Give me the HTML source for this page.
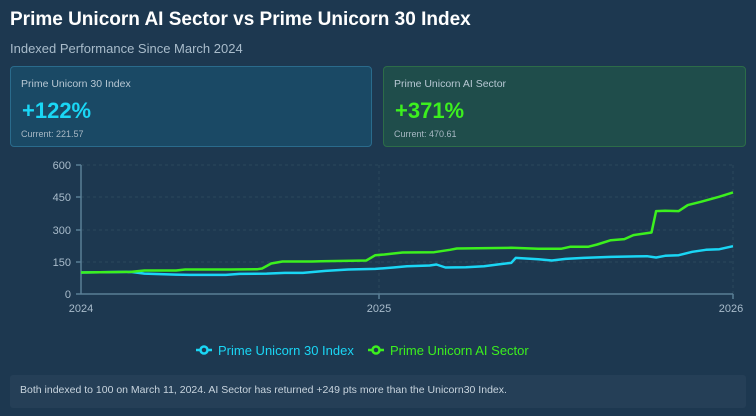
<!DOCTYPE html>
<html><head><meta charset="utf-8"><style>
body{margin:0;width:756px;height:416px;background:#1d3850;font-family:"Liberation Sans",sans-serif;overflow:hidden;position:relative}
.t{position:absolute;left:10px;top:9px;font-size:19px;font-weight:bold;color:#fff}
.s{position:absolute;left:10px;top:41px;font-size:13px;color:#a9bccb}
.card{position:absolute;top:66px;height:81px;border-radius:4px;box-sizing:border-box}
.card .l{position:absolute;left:10px;top:11px;font-size:10.5px;color:#b8c8d4}
.card .v{position:absolute;left:11px;top:31px;font-size:22px;font-weight:bold}
.card .c{position:absolute;left:10px;top:62px;font-size:9px;color:#a8b8c4}
.foot{position:absolute;left:10px;top:375px;width:736px;height:33px;background:#253f57;border-radius:3px;font-size:10.5px;color:#c8d4de;line-height:31px;padding-left:10px;box-sizing:border-box}
</style></head><body>
<div class="t">Prime Unicorn AI Sector vs Prime Unicorn 30 Index</div>
<div class="s">Indexed Performance Since March 2024</div>
<div class="card" style="left:10px;width:362px;background:#1a4965;border:1px solid #2a6b8c"><div class="l">Prime Unicorn 30 Index</div><div class="v" style="color:#1ad6f5">+122%</div><div class="c">Current: 221.57</div></div>
<div class="card" style="left:383px;width:363px;background:#1f4d4b;border:1px solid #2c6c48"><div class="l">Prime Unicorn AI Sector</div><div class="v" style="color:#3cf01e">+371%</div><div class="c">Current: 470.61</div></div>
<svg width="756" height="416" style="position:absolute;left:0;top:0" font-family="Liberation Sans, sans-serif">
<g stroke="#2a475c" stroke-dasharray="3,3"><line x1="81" x2="733" y1="165" y2="165"/><line x1="81" x2="733" y1="197" y2="197"/><line x1="81" x2="733" y1="230" y2="230"/><line x1="81" x2="733" y1="262" y2="262"/><line x1="379" x2="379" y1="165" y2="294"/><line x1="733" x2="733" y1="165" y2="294"/></g>
<g stroke="#5a7f96" stroke-width="1.5"><line x1="81" y1="165" x2="81" y2="294"/><line x1="81" y1="294" x2="733" y2="294"/><line x1="379" y1="294" x2="379" y2="299"/><line x1="733" y1="294" x2="733" y2="299"/><line x1="76" y1="165" x2="81" y2="165"/><line x1="76" y1="197" x2="81" y2="197"/><line x1="76" y1="230" x2="81" y2="230"/><line x1="76" y1="262" x2="81" y2="262"/><line x1="76" y1="294" x2="81" y2="294"/></g>
<g fill="#a9bccb" font-size="11" text-anchor="end"><text x="71" y="169">600</text><text x="71" y="201">450</text><text x="71" y="234">300</text><text x="71" y="266">150</text><text x="71" y="298">0</text></g>
<g fill="#a9bccb" font-size="11" text-anchor="middle"><text x="81" y="312">2024</text><text x="379" y="312">2025</text><text x="731" y="312">2026</text></g>
<polyline id="b" fill="none" stroke="#1ad6f5" stroke-width="2.5" stroke-linejoin="round"/>
<polyline id="g" fill="none" stroke="#3cf01e" stroke-width="2.5" stroke-linejoin="round"/>
<g stroke-width="2.5" fill="#1d3850"><line x1="196" x2="212" y1="350" y2="350" stroke="#1ad6f5"/><circle cx="204" cy="350" r="3.5" stroke="#1ad6f5"/><line x1="368" x2="384" y1="350" y2="350" stroke="#3cf01e"/><circle cx="376" cy="350" r="3.5" stroke="#3cf01e"/></g>
<text x="218" y="355" font-size="13" fill="#1ad6f5">Prime Unicorn 30 Index</text>
<text x="390" y="355" font-size="13" fill="#3cf01e">Prime Unicorn AI Sector</text>
</svg>
<div class="foot">Both indexed to 100 on March 11, 2024. AI Sector has returned +249 pts more than the Unicorn30 Index.</div>
<script>
var G=[[90,352],[200,350],[230,346],[300,346],[320,343],[420,343],[480,342],[490,340],[510,325],[535,319],[600,319],[620,318],[720,316],[740,300],[760,298],[800,292],[870,291],[905,284],[920,280],[1040,278],[1100,281],[1150,281],[1170,275],[1210,275],[1230,268],[1260,255],[1290,252],[1310,240],[1350,232],[1360,168],[1380,167],[1410,168],[1430,150],[1460,140],[1500,125],[1530,112]];
var B=[[90,352],[200,350],[230,355],[300,358],[330,359],[410,359],[440,356],[500,355],[540,353],[580,353],[630,347],[680,343],[740,341],[780,337],[810,333],[860,331],[875,328],[895,337],[940,336],[980,333],[1010,328],[1040,323],[1050,308],[1100,312],[1130,316],[1160,311],[1200,308],[1260,305],[1340,303],[1360,307],[1380,302],[1410,300],[1440,290],[1470,284],[1500,282],[1530,273]];
function f(a){return a.map(function(p){return (81+(p[0]-90)*0.4528).toFixed(1)+","+(165+(p[1]-30)*0.334).toFixed(1)}).join(" ")}
document.getElementById("g").setAttribute("points",f(G));
document.getElementById("b").setAttribute("points",f(B));
</script>
</body></html>
